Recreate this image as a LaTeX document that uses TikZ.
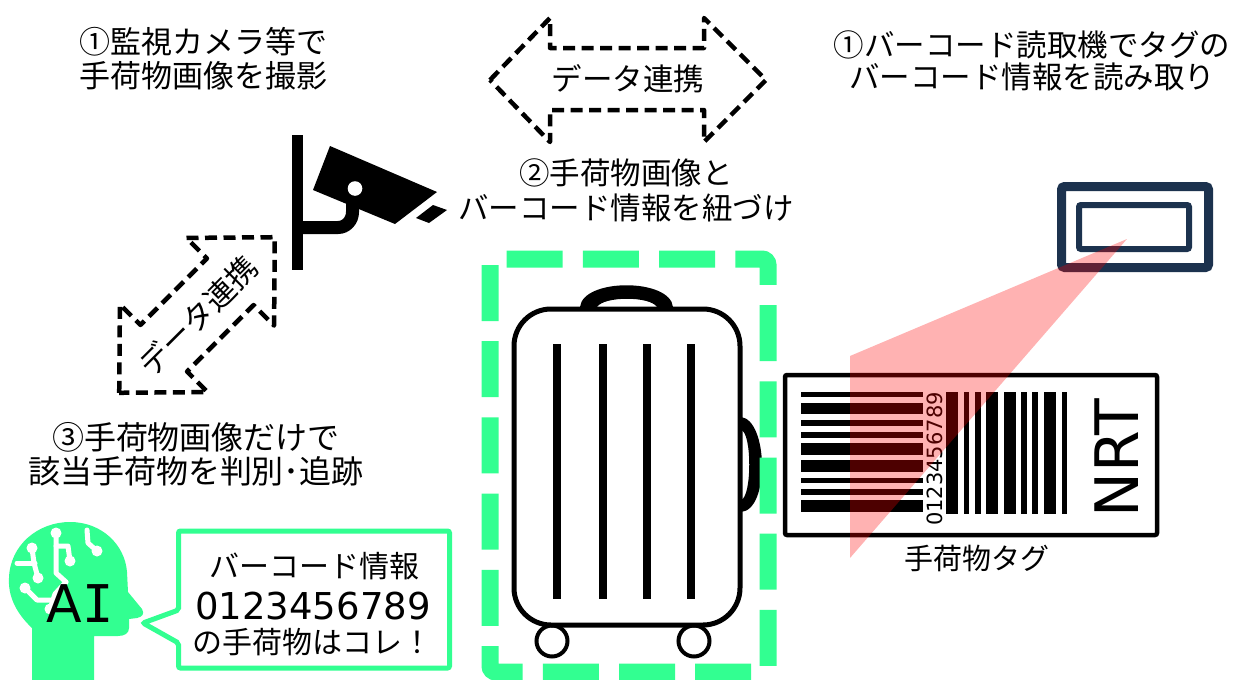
\documentclass[tikz,border=0pt]{standalone}
\usepackage{fontspec}
\setmainfont{Noto Sans CJK JP}
\newfontfamily\latinfont{DejaVu Sans}
\newfontfamily\latinmono{DejaVu Sans Mono}
\definecolor{mint}{RGB}{50,255,145}
\definecolor{navy}{RGB}{28,50,78}
\begin{document}
\begin{tikzpicture}[x=1pt,y=-1pt,
  caption/.style={font=\fontsize{30.5}{34.5}\selectfont, align=center, inner sep=0pt},
  flow/.style={draw=black, line width=4.5pt, dash pattern=on 12pt off 6.5pt, line join=round},
  circuit/.style={draw=white, line width=5pt, line cap=round, line join=round}
]
\useasboundingbox (0,0) rectangle (1237,680);
\fill[white] (0,0) rectangle (1237,680);

% ---- data link arrow between camera and reader ----
\draw[flow] (490,80) -- (550,18) -- (550,48) -- (704,48) -- (704,18) -- (766,80)
  -- (704,142) -- (704,110) -- (550,110) -- (550,142) -- cycle;
\node[caption] (linktop) at (628,79) {データ連携};

% ---- diagonal data link arrow between camera and AI ----
\begin{scope}[shift={(197,315)}, rotate=45]
  \draw[flow] (-110,0) -- (-47,-62) -- (-47,-33) -- (47,-33) -- (47,-62) -- (110,0)
    -- (47,62) -- (47,33) -- (-47,33) -- (-47,62) -- cycle;
\end{scope}
\node[caption, rotate=45] (linkdiag) at (198,316) {データ連携};

% ---- surveillance camera ----
\fill (292,135) rectangle (303,270);
\draw[line width=13pt] (297,227.5) -- (338,227.5) to[out=0,in=-90] (352.5,212) -- (352.5,200);
\fill (330,146) -- (437,192) -- (395,224) -- (313,190) -- cycle;
\fill[white] (355,188.5) circle (7.3);
\fill (416,218) -- (433,205) -- (447,210) -- (429,223) -- cycle;

% ---- captions ----
\node[caption, font=\fontsize{31}{34}\selectfont] (camcap) at (203,59) {①監視カメラ等で\\手荷物画像を撮影};
\node[caption, font=\fontsize{30.5}{32}\selectfont] (readcap) at (1032,61) {①バーコード読取機でタグの\\バーコード情報を読み取り};
\node[caption, font=\fontsize{30.5}{35}\selectfont] (linkcap) at (626,190) {②手荷物画像と\\バーコード情報を紐づけ};
\node[caption, font=\fontsize{32}{34}\selectfont] (aicap) at (196,454) {③手荷物画像だけで\\該当手荷物を判別･追跡};

% ---- suitcase ----
\draw[line width=4pt, fill=white] (552,641) circle (15.5);
\draw[line width=4pt, fill=white] (694,641) circle (15.5);
\fill (580,309) -- (580,307) .. controls (583,278) and (670,278) .. (673,307) -- (673,309)
  -- (657,309) -- (657,307) .. controls (650,296) and (604,296) .. (597,307) -- (597,309) -- cycle;
\fill (741,417) .. controls (768,420) and (770,510) .. (741,512) -- (741,500)
  .. controls (752,497) and (752,432) .. (741,430) -- cycle;
\draw[line width=5pt, fill=white, rounded corners=37pt] (514,309) rectangle (740,625);
\foreach \x in {557,603,647,691} \draw[line width=8pt] (\x,344) -- (\x,599);
% selection frame around the suitcase
\draw[mint, line width=17pt, dash pattern=on 56pt off 20.2pt, rounded corners=6pt]
  (490,259) rectangle (768,672);

% ---- baggage tag ----
\draw[line width=4.5pt, rounded corners=2pt] (785,375) rectangle (1157,535);
\foreach \a/\b in {391.7/397.3, 403.3/414, 420/426, 431.7/437.7, 443.3/455, 460/471.7, 478.3/483.3, 489.3/495, 500/511.7}
  \fill (801,\a) rectangle (923,\b);
\foreach \a/\b in {946/958, 964/969, 975/981, 986/998, 1004/1016, 1021/1027, 1032/1038, 1044/1056, 1062/1067}
  \fill (\a,392) rectangle (\b,514);
\node[inner sep=0pt, rotate=90, font=\latinfont\fontsize{21}{21}\selectfont] (tagnum) at (935,459) {0123456789};
\node[inner sep=0pt, rotate=90, font=\latinfont\fontsize{60}{60}\selectfont] (tagcode) at (1117,458) {NRT};
\node[caption, font=\fontsize{29}{29}\selectfont] (tagcap) at (977,558) {手荷物タグ};

% ---- barcode reader ----
\draw[navy, line width=9pt, rounded corners=3pt] (1061.5,186.5) rectangle (1208.5,267.5);
\draw[navy, line width=6pt, rounded corners=2pt] (1079,205) rectangle (1189,249);
\fill[red, opacity=0.3] (850,356) -- (1127,239) -- (850,558) -- cycle;

% ---- AI head ----
\fill[mint] (32,680) -- (32,628) .. controls (15,612) and (8,595) .. (9,578)
  .. controls (10,545) and (38,522) .. (70,522) .. controls (102,522) and (125,545) .. (127,572)
  -- (128,592) -- (142,609) .. controls (145,614) and (142,617) .. (137,618) -- (129,619)
  -- (129,628) .. controls (129,633) and (125,636) .. (118,636) -- (94,636) -- (94,680) -- cycle;
\draw[circuit] (56,533) -- (56,546) -- (68,546) -- (70,561);
\draw[circuit] (56,546) -- (56,573) -- (66,582);
\draw[circuit] (66,582) -- (55,594) -- (50,609);
\draw[circuit] (32,548) -- (34,563) -- (38,578);
\draw[circuit] (17,563) -- (35,563);
\draw[circuit] (87,530) -- (88,543) -- (97,551);
\draw[circuit] (25,588) -- (37,600) -- (52,600);
\foreach \p in {(56,533),(70,561),(50,609),(32,548),(38,578),(97,551),(25,588)}
  \fill[white] \p circle (5.5);
\node[inner sep=0pt, font=\fontsize{52}{52}\selectfont] (ai) at (80,604) {\latinfont A\latinmono I};

% ---- speech bubble ----
\draw[mint, line width=5pt, fill=white, rounded corners=2pt]
  (178.5,531) -- (449.5,531) -- (449.5,668) -- (178.5,668) -- (178.5,643) -- (143,623) -- (178.5,610) -- cycle;
\node[caption, font=\fontsize{30}{30}\selectfont] (say1) at (314,566) {バーコード情報};
\node[inner sep=0pt, font=\latinfont\fontsize{37}{37}\selectfont] (say2) at (313,606) {0123456789};
\node[caption, font=\fontsize{30}{30}\selectfont] (say3) at (312,642) {の手荷物はコレ！};
\end{tikzpicture}
\end{document}
